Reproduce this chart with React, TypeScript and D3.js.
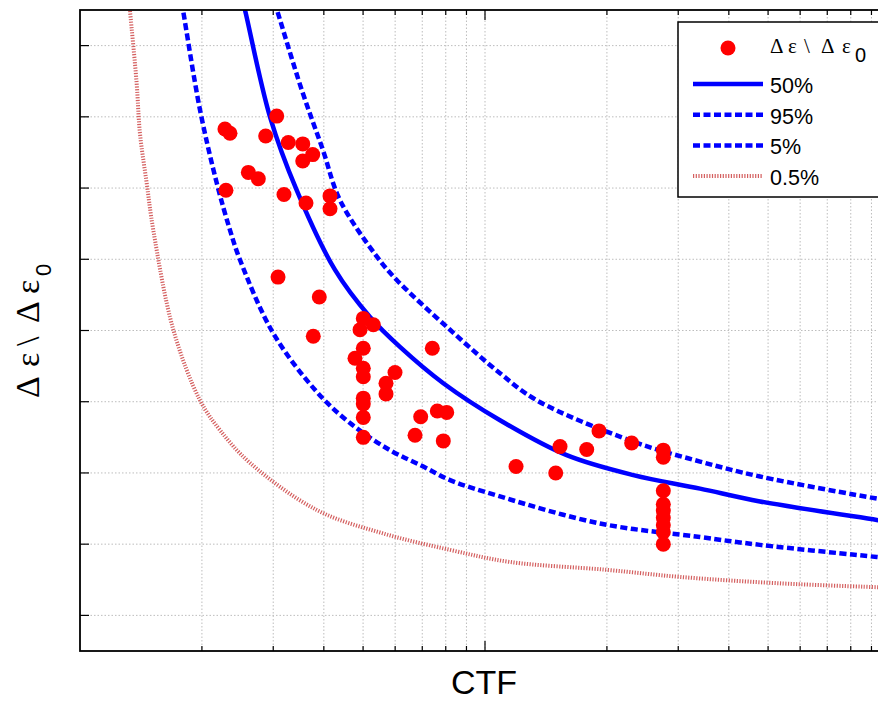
import * as d3 from "d3";
import React from "react";

// measured points (CTF, Δε/Δε0)
const dotCtf = [
  2.28, 2.346, 2.874, 3.06, 3.268, 3.548, 3.755, 3.548, 2.604, 2.756, 2.293, 3.189, 3.614, 4.143, 4.143,
  3.083, 3.898, 3.767, 5.006, 5.3, 4.914, 5.006, 4.775, 5.006, 5.006, 5.995, 5.696, 5.696, 5.006, 5.006,
  5.006, 5.006, 7.412, 7.626, 8.044, 6.938, 6.718, 7.889, 11.93, 14.95, 15.32, 17.83, 19.12, 23.02, 27.56,
  27.56, 27.56, 27.56, 27.56, 27.56, 27.56, 27.56, 27.56,
];
const dotRatio = [
  0.783, 0.777, 0.773, 0.801, 0.764, 0.762, 0.747, 0.738, 0.722, 0.713, 0.697, 0.691, 0.679, 0.689, 0.671,
  0.575, 0.547, 0.492, 0.517, 0.508, 0.501, 0.475, 0.461, 0.447, 0.435, 0.441, 0.426, 0.411, 0.405, 0.397,
  0.378, 0.35, 0.475, 0.387, 0.385, 0.379, 0.353, 0.345, 0.309, 0.3, 0.337, 0.333, 0.359, 0.342, 0.332,
  0.322, 0.275, 0.256, 0.247, 0.237, 0.227, 0.217, 0.2,
];

// fitted curves
const ctf50 = [2.49, 2.555, 2.945, 3.428, 4.263, 5.2, 6.166, 7.889, 10.89, 15.91, 23.24, 33.96, 47.75, 92.73, 100];
const ratio50 = [0.975, 0.95, 0.8, 0.697, 0.585, 0.519, 0.477, 0.426, 0.374, 0.325, 0.297, 0.278, 0.26, 0.234, 0.231];

const ctf95 = [2.97, 3.065, 3.527, 3.981, 4.385, 5.403, 6.053, 8.197, 10.89, 13.42, 23.24, 33.96, 47.75, 92.73, 100];
const ratio95 = [0.975, 0.95, 0.838, 0.753, 0.683, 0.604, 0.571, 0.501, 0.44, 0.402, 0.344, 0.316, 0.295, 0.264, 0.261];

const ctf5 = [1.765, 1.796, 1.978, 2.176, 2.346, 2.484, 3.001, 3.841, 4.642, 5.827, 7.042, 8.197, 10.89, 19.23, 33.96, 47.75, 92.73, 100];
const ratio5 = [0.975, 0.95, 0.81, 0.707, 0.641, 0.599, 0.496, 0.414, 0.37, 0.332, 0.309, 0.29, 0.267, 0.229, 0.21, 0.199, 0.182, 0.18];

const ctf05 = [1.315, 1.329, 1.38, 1.406, 1.461, 1.517, 1.7, 1.978, 2.217, 2.63, 3.841, 5.61, 8.197, 11.53, 19.98, 30.3, 53.52, 100];
const ratio05 = [0.975, 0.948, 0.847, 0.777, 0.707, 0.641, 0.501, 0.402, 0.36, 0.314, 0.248, 0.215, 0.192, 0.175, 0.164, 0.154, 0.145, 0.139];

const legendLabels = ["50%", "95%", "5%", "0.5%"];

const W = 878;
const H = 702;
const left = 80, right = 890, top = 10, bottom = 651;

const BLUE = "#0000ff";
const PINK = "#d45f5f";
const GRID = "#bdbdbd";

export default function App() {
  const x = d3.scaleLog().domain([1, 100]).range([left, right]);
  const y = d3.scaleLinear().domain([0.05, 0.95]).range([bottom, top]);

  const line = d3
    .line<[number, number]>()
    .x((d) => x(d[0]))
    .y((d) => y(d[1]))
    .curve(d3.curveCatmullRom.alpha(0.5));

  const zip = (a: number[], b: number[]) => a.map((v, i) => [v, b[i]] as [number, number]);

  const xTicks = x.ticks().filter((t) => t > 1 && t < 100);
  const yTicks = y.ticks(9);

  const curves = [
    { d: zip(ctf50, ratio50), stroke: BLUE, w: 4.5, dash: null },
    { d: zip(ctf95, ratio95), stroke: BLUE, w: 4.5, dash: "7,3.5" },
    { d: zip(ctf5, ratio5), stroke: BLUE, w: 4.5, dash: "7,3.5" },
    { d: zip(ctf05, ratio05), stroke: PINK, w: 4, dash: "1.2,1.5" },
  ];

  const serif = "'Liberation Serif', 'Times New Roman', serif";
  const sans = "'Liberation Sans', Arial, sans-serif";

  return (
    <div>
      <style>{`body{margin:0}`}</style>
      <svg width={W} height={H} style={{ display: "block", background: "#fff" }}>
        <defs>
          <clipPath id="plot">
            <rect x={left} y={top} width={right - left} height={bottom - top} />
          </clipPath>
        </defs>
        <rect x={left} y={top} width={right - left} height={bottom - top} fill="#fff" />

        {/* grid */}
        {xTicks.map((t) => (
          <line key={"gx" + t} x1={x(t)} x2={x(t)} y1={top} y2={bottom} stroke={GRID} strokeWidth={1} strokeDasharray="1.5,2" />
        ))}
        {yTicks.map((t) => (
          <line key={"gy" + t} x1={left} x2={right} y1={y(t)} y2={y(t)} stroke={GRID} strokeWidth={1} strokeDasharray="1.5,2" />
        ))}

        {/* curves and points */}
        <g clipPath="url(#plot)">
          {curves.map((c, i) => (
            <path key={i} d={line(c.d) || ""} fill="none" stroke={c.stroke} strokeWidth={c.w} strokeDasharray={c.dash || undefined} />
          ))}
          {dotCtf.map((v, i) => (
            <circle key={"p" + i} cx={x(v)} cy={y(dotRatio[i])} r={7.5} fill="#ff0000" />
          ))}
        </g>

        {/* axes frame + ticks */}
        <rect x={left} y={top} width={right - left} height={bottom - top} fill="none" stroke="#000" strokeWidth={1.8} />
        {xTicks.map((t) => {
          const len = t === 10 ? 10 : 5;
          return (
            <g key={"tx" + t}>
              <line x1={x(t)} x2={x(t)} y1={bottom} y2={bottom - len} stroke="#000" strokeWidth={1.2} />
              <line x1={x(t)} x2={x(t)} y1={top} y2={top + len} stroke="#000" strokeWidth={1.2} />
            </g>
          );
        })}
        {yTicks.map((t) => (
          <g key={"ty" + t}>
            <line x1={left} x2={left + 9} y1={y(t)} y2={y(t)} stroke="#000" strokeWidth={1.2} />
            <line x1={right} x2={right - 9} y1={y(t)} y2={y(t)} stroke="#000" strokeWidth={1.2} />
          </g>
        ))}

        {/* axis labels */}
        <text x={484} y={694} textAnchor="middle" fontFamily={sans} fontSize={34} fill="#000">
          CTF
        </text>
        <g transform="translate(39,398) rotate(-90)">
          <text fontFamily={serif} fontSize={34} fill="#000">
            <tspan x={0}>Δ</tspan>
            <tspan x={31}>ε</tspan>
            <tspan x={52}>\</tspan>
            <tspan x={75}>Δ</tspan>
            <tspan x={104}>ε</tspan>
            <tspan x={122} dy={12} fontFamily={sans} fontSize={22}>0</tspan>
          </text>
        </g>

        {/* legend */}
        <rect x={678} y={22} width={230} height={175} fill="#fff" stroke="#000" strokeWidth={1.5} />
        <circle cx={728} cy={48} r={7.5} fill="#ff0000" />
        <text y={53} fontFamily={serif} fontSize={21} fill="#000">
          <tspan x={770}>Δ</tspan>
          <tspan x={788}>ε</tspan>
          <tspan x={804}>\</tspan>
          <tspan x={821}>Δ</tspan>
          <tspan x={842}>ε</tspan>
          <tspan x={855} dy={9} fontFamily={sans} fontSize={20}>0</tspan>
        </text>
        {legendLabels.map((lab, i) => {
          const ly = 84 + i * 30.7;
          const c = curves[i];
          return (
            <g key={lab}>
              <line x1={693} x2={763} y1={ly} y2={ly} stroke={c.stroke} strokeWidth={c.w} strokeDasharray={c.dash || undefined} />
              <text x={770} y={ly + 9} fontFamily={sans} fontSize={21.5} fill="#000">
                {lab}
              </text>
            </g>
          );
        })}
      </svg>
    </div>
  );
}
